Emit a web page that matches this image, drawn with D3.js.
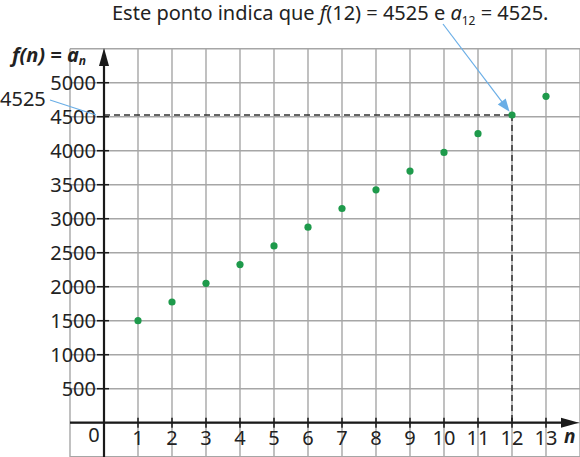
<!DOCTYPE html>
<html>
<head>
<meta charset="utf-8">
<script src="https://cdn.jsdelivr.net/npm/d3@7"></script>
<style>
  body { margin: 0; background: #fff; }
  svg { font-family: "Noto Sans", sans-serif; }
</style>
</head>
<body>
<svg width="580" height="457"></svg>
<script>
var nValues = [1, 2, 3, 4, 5, 6, 7, 8, 9, 10, 11, 12, 13];
var fValues = [1500, 1775, 2050, 2325, 2600, 2875, 3150, 3425, 3700, 3975, 4250, 4525, 4800];
var xTicks = [1, 2, 3, 4, 5, 6, 7, 8, 9, 10, 11, 12, 13];
var yTicks = [500, 1000, 1500, 2000, 2500, 3000, 3500, 4000, 4500, 5000];
var highlightN = 12;
var highlightF = 4525;

var svg = d3.select('svg');

var x = d3.scaleLinear().domain([-1, 14]).range([70, 580]);
var y = d3.scaleLinear().domain([-500, 5500]).range([456.7, 48.7]);

// grid
var grid = svg.append('g').attr('stroke', '#a6a6a6').attr('stroke-width', 1.4);
grid.selectAll('.v').data(d3.range(-1, 15)).enter().append('line')
  .attr('x1', function (d) { return x(d); }).attr('x2', function (d) { return x(d); })
  .attr('y1', y(5500)).attr('y2', 457);
grid.selectAll('.h').data(d3.range(-500, 5501, 500)).enter().append('line')
  .attr('x1', x(-1)).attr('x2', 580)
  .attr('y1', function (d) { return y(d); }).attr('y2', function (d) { return y(d); });

// dashed guides
var dash = svg.append('g').attr('stroke', '#333').attr('stroke-width', 1.5).attr('stroke-dasharray', '6,4');
dash.append('line').attr('x1', x(0)).attr('x2', x(highlightN)).attr('y1', y(highlightF)).attr('y2', y(highlightF));
dash.append('line').attr('x1', x(highlightN)).attr('x2', x(highlightN)).attr('y1', y(highlightF)).attr('y2', y(0));

// axes
var ax = svg.append('g').attr('stroke', '#1a1a1a');
ax.append('line').attr('x1', x(0)).attr('x2', x(0)).attr('y1', 62).attr('y2', 457).attr('stroke-width', 2.2);
ax.append('line').attr('x1', x(-1)).attr('x2', 566).attr('y1', y(0)).attr('y2', y(0)).attr('stroke-width', 2.2);
svg.append('path').attr('d', 'M' + x(0) + ',48 L' + (x(0) - 5) + ',66 L' + (x(0) + 5) + ',66 Z').attr('fill', '#1a1a1a');
svg.append('path').attr('d', 'M579,' + y(0) + ' L561,' + (y(0) - 5) + ' L561,' + (y(0) + 5) + ' Z').attr('fill', '#1a1a1a');

ax.selectAll('.yt').data(yTicks).enter().append('line')
  .attr('x1', x(0) - 7).attr('x2', x(0) + 5)
  .attr('y1', function (d) { return y(d); }).attr('y2', function (d) { return y(d); })
  .attr('stroke-width', 1.5);
ax.selectAll('.xt').data(xTicks).enter().append('line')
  .attr('x1', function (d) { return x(d); }).attr('x2', function (d) { return x(d); })
  .attr('y1', y(0) - 5).attr('y2', y(0) + 5)
  .attr('stroke-width', 1.5);

svg.selectAll('.yl').data(yTicks).enter().append('text')
  .attr('x', x(0) - 8).attr('y', function (d) { return y(d) + 7; })
  .attr('text-anchor', 'end').attr('font-size', 20).attr('fill', '#222')
  .text(function (d) { return d; });
svg.selectAll('.xl').data(xTicks).enter().append('text')
  .attr('x', function (d) { return x(d); }).attr('y', y(0) + 22)
  .attr('text-anchor', 'middle').attr('font-size', 20).attr('fill', '#222')
  .text(function (d) { return d; });
svg.append('text').attr('x', x(0) - 10).attr('y', y(0) + 19).attr('text-anchor', 'middle')
  .attr('font-size', 20).attr('fill', '#222').text('0');

// axis names
svg.append('text').attr('x', 564).attr('y', y(0) + 20).attr('font-size', 19)
  .attr('font-weight', 'bold').attr('font-style', 'italic').attr('fill', '#222').text('n');
var yl = svg.append('text').attr('x', 12).attr('y', 62).attr('font-size', 20)
  .attr('font-weight', 'bold').attr('font-style', 'italic').attr('fill', '#222');
yl.append('tspan').text('f(n) = a');
yl.append('tspan').attr('font-size', 12).attr('dy', 3).text('n');

// points
svg.selectAll('.pt').data(nValues).enter().append('circle')
  .attr('cx', function (d) { return x(d); })
  .attr('cy', function (d, i) { return y(fValues[i]); })
  .attr('r', 3.6).attr('fill', '#1e9a4b');

// annotations
svg.append('text').attr('x', 0).attr('y', 106).attr('font-size', 20).attr('fill', '#222').text(highlightF);
svg.append('line').attr('x1', 50).attr('y1', 100).attr('x2', x(0) - 8).attr('y2', y(highlightF))
  .attr('stroke', '#6aaee6').attr('stroke-width', 1.2);

var t = svg.append('text').attr('x', 112).attr('y', 20).attr('font-size', 20).attr('fill', '#222');
t.append('tspan').text('Este ponto indica que ');
t.append('tspan').attr('font-style', 'italic').text('f');
t.append('tspan').text('(12) = 4525 e ');
t.append('tspan').attr('font-style', 'italic').text('a');
t.append('tspan').attr('font-size', 12).attr('dy', 5).text('12');
t.append('tspan').attr('dy', -5).text(' = 4525.');

var ex = x(highlightN), ey = y(highlightF);
var sx = 443, sy = 24;
var ang = Math.atan2(ey - sy, ex - sx);
var hx = ex - 4 * Math.cos(ang), hy = ey - 4 * Math.sin(ang);
svg.append('line').attr('x1', sx).attr('y1', sy)
  .attr('x2', hx - 10 * Math.cos(ang)).attr('y2', hy - 10 * Math.sin(ang))
  .attr('stroke', '#6aaee6').attr('stroke-width', 1.2);
var bx = hx - 13 * Math.cos(ang), by = hy - 13 * Math.sin(ang);
var px = -Math.sin(ang) * 5, py = Math.cos(ang) * 5;
svg.append('path')
  .attr('d', 'M' + hx + ',' + hy + ' L' + (bx + px) + ',' + (by + py) + ' L' + (bx - px) + ',' + (by - py) + ' Z')
  .attr('fill', '#6aaee6');
</script>
</body>
</html>
